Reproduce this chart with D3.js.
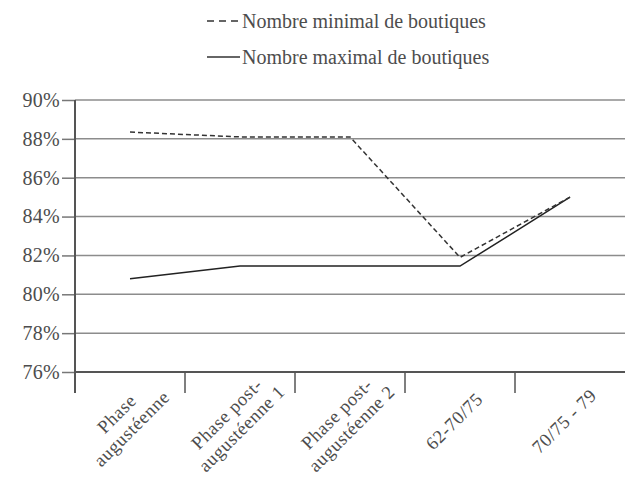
<!DOCTYPE html>
<html><head><meta charset="utf-8">
<script src="https://cdn.jsdelivr.net/npm/d3@7"></script>
<style>body{margin:0;background:#fff}</style>
</head><body><svg id="c" width="626" height="477"></svg>
<script>
const categories = [["Phase","augustéenne"],["Phase post-","augustéenne 1"],["Phase post-","augustéenne 2"],["62-70/75"],["70/75 - 79"]];
const minValues = [88.35, 88.1, 88.1, 81.9, 85.0];
const maxValues = [80.8, 81.45, 81.45, 81.45, 85.0];
const yTicks = [76,78,80,82,84,86,88,90];
const seriesNames = ["Nombre minimal de boutiques","Nombre maximal de boutiques"];

const FONT = '"Liberation Serif", "Times New Roman", serif';
const TXT = "#4d4d4d";
const svg = d3.select("#c");
const L=75, R=625, T=100, B=372;
const x = d3.scaleBand().domain(d3.range(categories.length)).range([L,R]);
const y = d3.scaleLinear().domain([76,90]).range([B,T]);

// gridlines
svg.append("g").selectAll("line").data(yTicks.filter(d=>d>76)).join("line")
  .attr("x1",L).attr("x2",R).attr("y1",d=>y(d)).attr("y2",d=>y(d))
  .attr("stroke","#8c8c8c").attr("stroke-width",1.5);

// y axis
const ya = svg.append("g").attr("transform",`translate(${L},0)`)
  .call(d3.axisLeft(y).tickValues(yTicks).tickSize(13).tickPadding(2).tickFormat(d=>d+"%"));
ya.select(".domain").remove();
ya.selectAll(".tick line").attr("stroke","#777").attr("stroke-width",1.5);
ya.selectAll(".tick text").style("font-family",FONT).style("font-size","20px")
  .style("letter-spacing","0.3px").style("fill",TXT);
svg.append("line").attr("x1",L).attr("x2",L).attr("y1",T).attr("y2",B+21).attr("stroke","#555").attr("stroke-width",2);

// x axis
svg.append("line").attr("x1",L).attr("x2",R).attr("y1",B).attr("y2",B).attr("stroke","#555").attr("stroke-width",2);
svg.append("g").selectAll("line").data(d3.range(1,categories.length)).join("line")
  .attr("x1",d=>x(d)).attr("x2",d=>x(d)).attr("y1",B).attr("y2",B+21).attr("stroke","#555").attr("stroke-width",1.5);

const lab = svg.append("g").selectAll("g").data(categories).join("g")
  .attr("transform",(d,i)=>`translate(${x(i)+x.bandwidth()/2-6},421) rotate(-45)`);
lab.each(function(d){
  const g=d3.select(this); const n=d.length;
  d.forEach((t,k)=>g.append("text").attr("text-anchor","middle")
    .style("font-family",FONT).style("font-size","18.5px").style("letter-spacing","0.6px").style("fill",TXT)
    .attr("y",(k-(n-1)/2)*21).attr("dy","0.35em").text(t));
});

const line = d3.line().x((d,i)=>x(i)+x.bandwidth()/2).y(d=>y(d));
svg.append("path").datum(maxValues).attr("d",line).attr("fill","none").attr("stroke","#222").attr("stroke-width",1.5);
svg.append("path").datum(minValues).attr("d",line).attr("fill","none").attr("stroke","#333").attr("stroke-width",1.5).attr("stroke-dasharray","5,3");

// legend
const lg = svg.append("g");
[0,1].forEach(k=>{
  const yy = k===0?21:57;
  lg.append("line").attr("x1",207).attr("x2",240).attr("y1",yy).attr("y2",yy)
    .attr("stroke","#333").attr("stroke-width",1.5).attr("stroke-dasharray",k===0?"7,5":null);
  lg.append("text").attr("x",242).attr("y",yy).attr("dy","0.35em")
    .style("font-family",FONT).style("font-size","20px").style("fill",TXT)
    .text(seriesNames[k]);
});
</script></body></html>
